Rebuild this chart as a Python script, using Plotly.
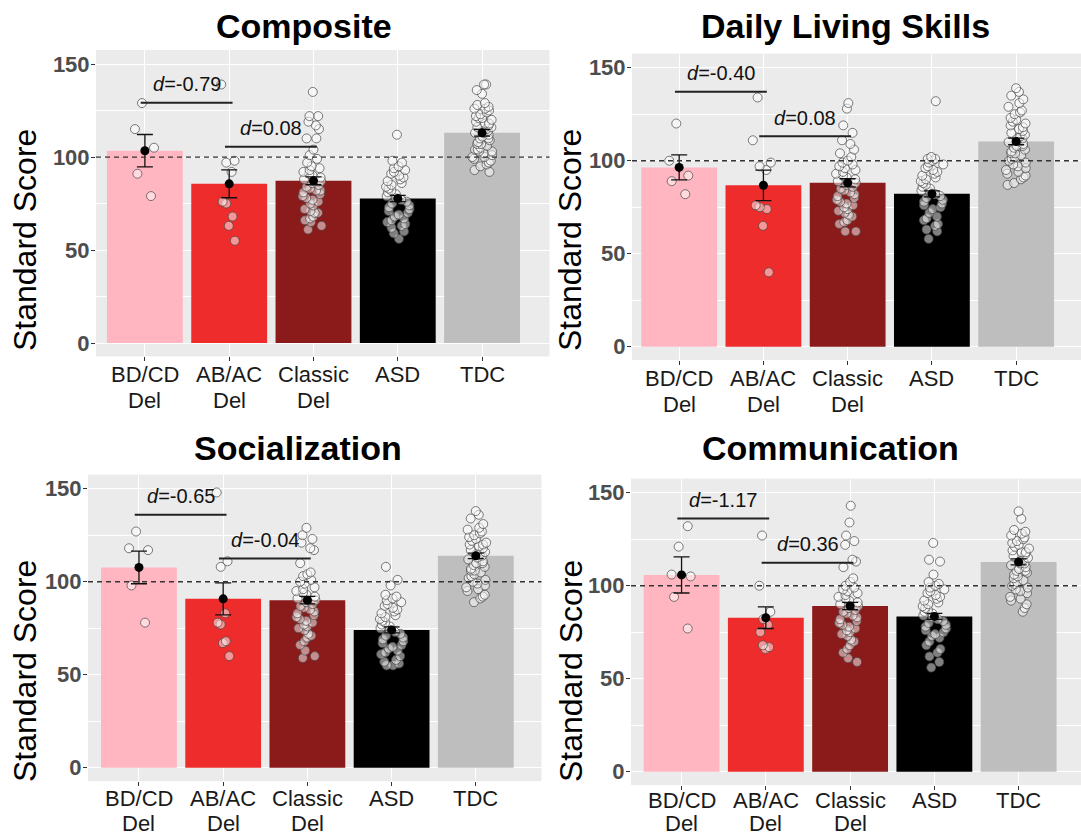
import plotly.graph_objects as go

# ---------------------------------------------------------------- data
groups = ["BD/CD<br>Del", "AB/AC<br>Del", "Classic<br>Del", "ASD", "TDC"]
bar_colors = ["#FFB6C1", "#EE2C2C", "#8B1A1A", "#000000", "#BEBEBE"]

# Composite
composite_mean = [103.4, 85.6, 87.2, 77.7, 113.0]
composite_se = [8.7, 7.5, 2.1, 1.7, 1.8]
composite_d = ["-0.79", "0.08"]
composite_bdcd = [129, 115, 105, 91, 79]
composite_abac = [139, 98, 97, 92, 76, 75, 68, 63, 55]
composite_classic = [135, 122, 122, 119, 117, 115, 110, 110, 104, 101, 99, 97, 95, 94, 93,
                     92, 91, 90, 89, 88, 87, 86, 85, 84, 83, 82, 82, 81, 80, 79, 78, 77, 76,
                     75, 74, 72, 71, 70, 70, 68, 67, 66, 65, 63, 61]
composite_asd = [112, 98, 97, 95, 94, 93, 92, 91, 90, 89, 88, 87, 86, 85, 84, 83, 82, 81,
                 80, 79, 78, 77, 76, 75, 74, 73, 72, 71, 70, 69, 68, 67, 66, 65, 64, 63, 62,
                 60, 59, 56]
composite_tdc = [139, 139, 136, 134, 129, 128, 127, 126, 126, 125, 124, 123, 122, 121, 120,
                 119, 118, 117, 116, 116, 115, 114, 113, 113, 112, 111, 110, 109, 108, 107,
                 106, 105, 104, 104, 103, 102, 101, 100, 99, 98, 97, 96, 95, 93, 92, 121,
                 118, 114, 110, 107, 103, 100]

# Daily Living Skills
daily_mean = [96.4, 86.8, 88.1, 82.2, 110.4]
daily_se = [6.7, 8.2, 2.2, 1.6, 1.8]
daily_d = ["-0.40", "0.08"]
daily_bdcd = [120, 100, 92, 89, 82]
daily_abac = [134, 111, 99, 97, 95, 76, 75, 74, 65, 40]
daily_classic = [131, 128, 119, 115, 111, 109, 106, 104, 102, 100, 99, 98, 97, 96, 95, 94,
                 93, 92, 91, 90, 89, 88, 87, 86, 85, 84, 83, 82, 81, 80, 79, 78, 77, 76, 75,
                 74, 73, 72, 71, 70, 68, 67, 66, 62, 62]
daily_asd = [132, 102, 101, 101, 100, 99, 98, 97, 96, 95, 94, 93, 92, 91, 90, 89, 88, 87,
             86, 85, 84, 83, 82, 81, 80, 79, 78, 77, 76, 75, 74, 72, 70, 69, 68, 66, 65, 63,
             62, 58]
daily_tdc = [139, 137, 135, 133, 131, 129, 127, 126, 125, 123, 122, 121, 120, 119, 118, 117,
             116, 115, 114, 113, 112, 111, 110, 109, 108, 107, 106, 105, 104, 103, 102, 101,
             100, 99, 98, 97, 96, 95, 94, 93, 92, 91, 90, 88, 87, 112, 108, 104]

# Socialization
social_mean = [107.7, 90.8, 90.1, 74.1, 113.9]
social_se = [8.8, 8.6, 2.0, 1.6, 1.5]
social_d = ["-0.65", "-0.04"]
social_bdcd = [127, 118, 117, 98, 78]
social_abac = [148, 111, 108, 83, 78, 77, 68, 67, 60]
social_classic = [129, 125, 123, 121, 118, 117, 110, 105, 104, 103, 101, 100, 99, 97, 96, 95,
                  94, 93, 92, 91, 90, 89, 88, 87, 86, 85, 84, 83, 82, 81, 80, 79, 78, 77, 76,
                  75, 74, 72, 71, 70, 68, 66, 63, 60, 59]
social_asd = [108, 101, 98, 93, 92, 91, 90, 89, 88, 87, 86, 85, 84, 83, 82, 81, 80, 79, 78,
              77, 76, 75, 74, 73, 72, 71, 70, 69, 68, 67, 66, 65, 64, 63, 62, 61, 60, 58, 57,
              56, 55, 55]
social_tdc = [138, 136, 134, 131, 129, 128, 127, 126, 125, 124, 123, 122, 121, 120, 119, 118,
              117, 116, 115, 114, 113, 112, 111, 110, 109, 108, 107, 106, 105, 104, 103, 102,
              101, 100, 99, 98, 97, 96, 95, 93, 92, 91, 89, 120, 115, 110, 106]

# Communication
comm_mean = [105.8, 82.8, 89.1, 83.5, 112.8]
comm_se = [9.7, 5.8, 2.0, 1.6, 1.6]
comm_d = ["-1.17", "0.36"]
comm_bdcd = [132, 121, 106, 105, 94, 77]
comm_abac = [127, 100, 86, 82, 79, 75, 68, 67, 66]
comm_classic = [143, 134, 127, 124, 122, 114, 113, 110, 104, 102, 100, 99, 98, 97, 96, 95, 94,
                93, 92, 91, 90, 89, 88, 87, 86, 85, 84, 83, 82, 81, 80, 79, 78, 77, 76, 75,
                74, 73, 71, 70, 68, 66, 64, 61, 59]
comm_asd = [123, 114, 113, 106, 102, 101, 100, 99, 98, 97, 96, 95, 94, 93, 92, 91, 90, 89, 88,
            87, 86, 85, 84, 83, 82, 81, 80, 79, 78, 77, 76, 75, 74, 73, 72, 70, 68, 66, 64,
            62, 59, 56]
comm_tdc = [140, 136, 130, 129, 128, 127, 126, 125, 124, 123, 122, 121, 120, 119, 118, 117,
            116, 115, 114, 113, 112, 111, 110, 109, 108, 107, 106, 105, 104, 103, 102, 101,
            100, 99, 98, 97, 96, 94, 93, 92, 90, 88, 86, 118, 112, 108]

panels = [
    ("Composite", composite_mean, composite_se, composite_d,
     [composite_bdcd, composite_abac, composite_classic, composite_asd, composite_tdc]),
    ("Daily Living Skills", daily_mean, daily_se, daily_d,
     [daily_bdcd, daily_abac, daily_classic, daily_asd, daily_tdc]),
    ("Socialization", social_mean, social_se, social_d,
     [social_bdcd, social_abac, social_classic, social_asd, social_tdc]),
    ("Communication", comm_mean, comm_se, comm_d,
     [comm_bdcd, comm_abac, comm_classic, comm_asd, comm_tdc]),
]

# ------------------------------------------------------------ geometry
W, H = 1081, 837
Y_RANGE = [-7.2, 157.6]
# pixel boxes of each plotting panel: (left, right, top, bottom, x-range)
frames = [
    (96, 549.5, 49.9, 356.4, [-0.58, 4.80]),
    (632, 1081, 53.6, 360.1, [-0.56, 4.77]),
    (88, 541.5, 474.6, 781.1, [-0.605, 4.78]),
    (631, 1081, 478.6, 785.1, [-0.60, 4.74]),
]
# title centre, y-title centre, bracket heights (data units)
titles_px = [(304, 26), (845, 26), (298, 448), (830, 448)]
ytitle_px = [(25, 240), (570, 240), (25, 671), (571, 671)]
brackets = [(129.2, 105.5), (137.1, 113.2), (136.0, 112.5), (136.2, 112.3)]
# px below each panel for the two lines of the category labels
label_shift = [(-18, -44), (-18, -44), (-17, -42), (-15, -38)]

FONT = "Liberation Sans, Arial, Helvetica, sans-serif"
positions = list(range(len(groups)))

fig = go.Figure()
layout_axes = {}
shapes = []
annotations = []

for k, (title, means, ses, dvals, samples) in enumerate(panels):
    n = "" if k == 0 else str(k + 1)
    xa, ya = "x" + n, "y" + n
    left, right, top, bottom, xr = frames[k]

    fig.add_trace(go.Bar(
        x=positions, y=means, width=0.9, marker_color=bar_colors,
        marker_line_width=0, xaxis=xa, yaxis=ya, showlegend=False,
    ))

    xs, ys = [], []
    for p, vals in zip(positions, samples):
        xs += [p] * len(vals)
        ys += vals
    fig.add_trace(go.Box(
        x=xs, y=ys, boxpoints="all", jitter=0.45, pointpos=0, width=0.62,
        fillcolor="rgba(0,0,0,0)", line=dict(color="rgba(0,0,0,0)", width=0),
        whiskerwidth=0,
        marker=dict(size=9, color="rgba(255,255,255,0.5)",
                    line=dict(color="rgba(70,70,70,0.7)", width=1)),
        xaxis=xa, yaxis=ya, showlegend=False, hoveron="points",
    ))

    fig.add_trace(go.Scatter(
        x=positions, y=means, mode="markers",
        marker=dict(size=9, color="black"),
        error_y=dict(type="data", array=ses, visible=True, color="#111111",
                     thickness=1.3, width=8),
        xaxis=xa, yaxis=ya, showlegend=False,
    ))

    layout_axes["xaxis" + n] = dict(
        domain=[left / W, right / W], anchor=ya, range=xr, automargin=False,
        tickmode="array", tickvals=positions, showticklabels=False,
        ticks="outside", ticklen=4, tickcolor="#333333", tickwidth=1,
        showgrid=True, gridcolor="white", gridwidth=1.4, zeroline=False,
        showline=False, fixedrange=True,
    )
    layout_axes["yaxis" + n] = dict(
        domain=[1 - bottom / H, 1 - top / H], anchor=xa, range=Y_RANGE,
        automargin=False,
        tickmode="array", tickvals=[0, 50, 100, 150],
        ticks="outside", ticklen=4, tickcolor="#333333", tickwidth=1,
        ticklabelstandoff=-3,
        showgrid=True, gridcolor="white", gridwidth=1.4, zeroline=False,
        minor=dict(tickvals=[25, 75, 125], showgrid=True, gridcolor="white",
                   gridwidth=0.7, ticks=""),
        tickfont=dict(family=FONT, size=22, color="#4D4D4D", weight="bold"),
        showline=False, fixedrange=True,
    )

    # category labels, one annotation per text line
    for p, lab in zip(positions, groups):
        for line, shift in zip(lab.split("<br>"), label_shift[k]):
            annotations.append(dict(x=p, y=0, xref=xa, yref=ya + " domain",
                                    text=line, showarrow=False, yshift=shift,
                                    borderpad=0,
                                    font=dict(family=FONT, size=22, color="#1A1A1A"),
                                    xanchor="center", yanchor="middle"))

    # reference line at the population mean of 100
    shapes.append(dict(type="line", xref=xa + " domain", yref=ya,
                       x0=0, x1=1, y0=100, y1=100, layer="above",
                       line=dict(color="#333333", width=1.3, dash="5px,4px")))

    # effect-size brackets between neighbouring groups
    for j, (h, dv) in enumerate(zip(brackets[k], dvals)):
        x0, x1 = positions[j] - 0.05, positions[j + 1] + 0.04
        shapes.append(dict(type="line", xref=xa, yref=ya, x0=x0, x1=x1, y0=h, y1=h,
                           layer="above", line=dict(color="#222222", width=2)))
        annotations.append(dict(x=(x0 + x1) / 2, y=h + 10, xref=xa, yref=ya,
                                text="<i>d</i>=" + dv, showarrow=False,
                                font=dict(family=FONT, size=20, color="#111111"),
                                xanchor="center", yanchor="middle"))

    tx, ty = titles_px[k]
    annotations.append(dict(x=tx / W, y=1 - ty / H, xref="paper", yref="paper",
                            text="<b>" + title + "</b>", showarrow=False,
                            font=dict(family=FONT, size=34, color="black"),
                            xanchor="center", yanchor="middle"))
    yx, yy = ytitle_px[k]
    annotations.append(dict(x=yx / W, y=1 - yy / H, xref="paper", yref="paper",
                            text="Standard Score", showarrow=False, textangle=-90,
                            font=dict(family=FONT, size=32, color="black"),
                            xanchor="center", yanchor="middle"))

fig.update_layout(
    width=W, height=H, margin=dict(l=0, r=0, t=0, b=0),
    paper_bgcolor="white", plot_bgcolor="#EBEBEB",
    boxmode="overlay", barmode="overlay", showlegend=False,
    shapes=shapes, annotations=annotations, **layout_axes,
)

fig.write_html("out.html", config={"displayModeBar": False})
